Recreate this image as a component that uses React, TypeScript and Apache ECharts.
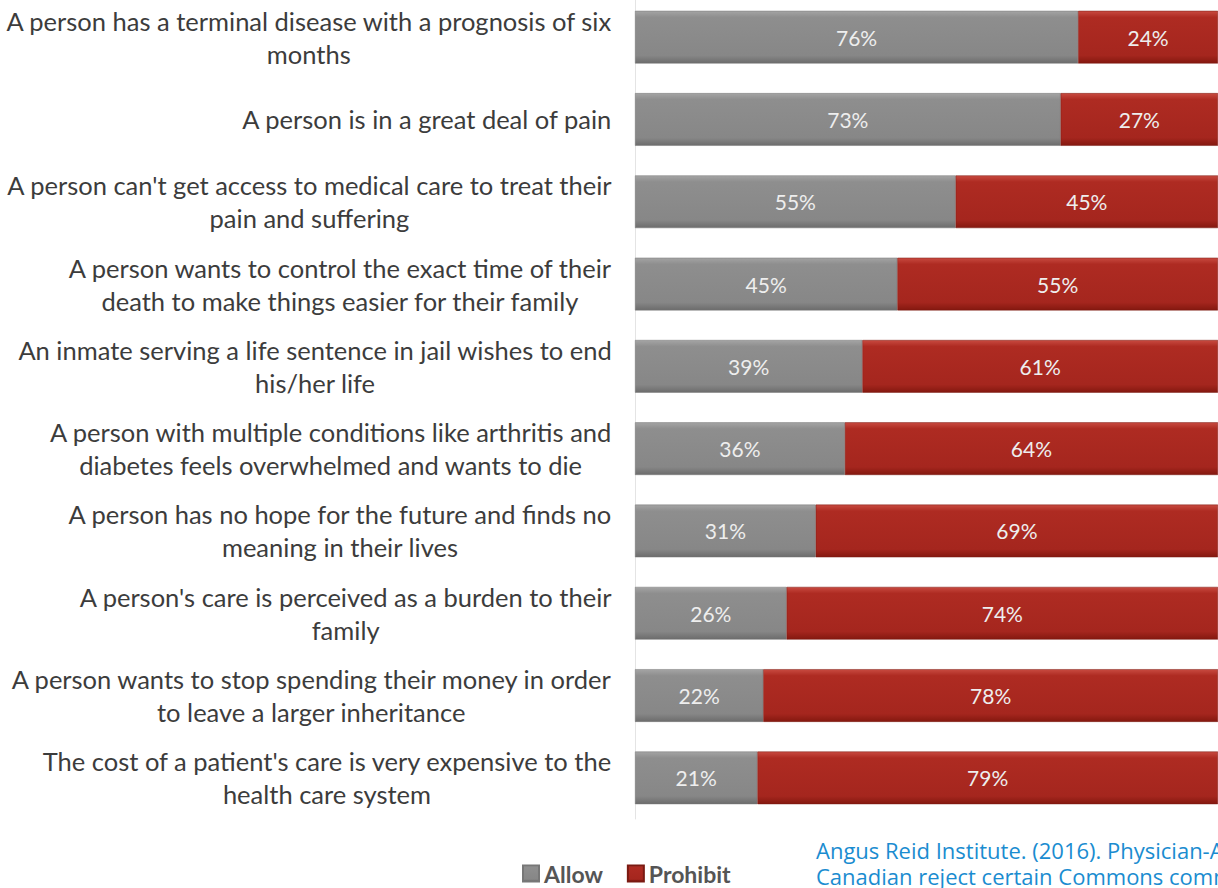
import React, { useEffect, useRef } from "react";
import * as echarts from "echarts";

const categories: string[] = [
  "A person has a terminal disease with a prognosis of six\nmonths",
  "A person is in a great deal of pain",
  "A person can't get access to medical care to treat their\npain and suffering",
  "A person wants to control the exact time of their\ndeath to make things easier for their family",
  "An inmate serving a life sentence in jail wishes to end\nhis/her life",
  "A person with multiple conditions like arthritis and\ndiabetes feels overwhelmed and wants to die",
  "A person has no hope for the future and finds no\nmeaning in their lives",
  "A person's care is perceived as a burden to their\nfamily",
  "A person wants to stop spending their money in order\nto leave a larger inheritance",
  "The cost of a patient's care is very expensive to the\nhealth care system",
];
const allowValues: number[] = [76, 73, 55, 45, 39, 36, 31, 26, 22, 21];
const prohibitValues: number[] = [24, 27, 45, 55, 61, 64, 69, 74, 78, 79];
const seriesNames: string[] = ["Allow", "Prohibit"];
const citationLines: string[] = [
  "Angus Reid Institute. (2016). Physician-A",
  "Canadian reject certain Commons comm",
];

const grayGrad = new echarts.graphic.LinearGradient(0, 0, 0, 1, [
  { offset: 0, color: "#a4a4a4" },
  { offset: 0.12, color: "#8e8e8e" },
  { offset: 0.85, color: "#878787" },
  { offset: 1, color: "#6c6c6c" },
]);
const redGrad = new echarts.graphic.LinearGradient(0, 0, 0, 1, [
  { offset: 0, color: "#c84a40" },
  { offset: 0.12, color: "#ae2b22" },
  { offset: 0.85, color: "#a5261e" },
  { offset: 1, color: "#84180f" },
]);

// the chart div starts 4px above the page top so that the first band can begin above it
const SHIFT = 4;

export default function App() {
  const ref = useRef<HTMLDivElement>(null);
  useEffect(() => {
    if (!ref.current) return;
    const chart = echarts.init(ref.current, null, { renderer: "svg" });
    const labelCfg = {
      show: true,
      position: "inside",
      formatter: (p: any) => p.value + "%",
      color: "#eeeeee",
      fontFamily: "Lato",
      fontSize: 21,
    };
    chart.setOption({
      animation: false,
      backgroundColor: "#ffffff",
      grid: { left: 635, right: 0, top: 0, bottom: 69, containLabel: false },
      xAxis: {
        type: "value",
        min: 0,
        max: 100,
        show: false,
      },
      yAxis: {
        type: "category",
        inverse: true,
        data: categories,
        axisLine: { show: true, lineStyle: { color: "#e4e4e4", width: 1 } },
        axisTick: { show: false },
        axisLabel: {
          margin: 23,
          align: "right",
          color: "#3c3c3c",
          fontFamily: "Lato",
          fontSize: 25.5,
          lineHeight: 33,
          formatter: (v: string) =>
            v
              .split("\n")
              .map((l) => "{c|" + l + "}")
              .join("\n"),
          rich: {
            c: {
              align: "center",
              color: "#3c3c3c",
              fontFamily: "Lato",
              fontSize: 25.5,
              lineHeight: 33,
            },
          },
        },
      },
      legend: {
        top: 862 + SHIFT,
        left: 522,
        padding: 0,
        itemWidth: 16,
        itemHeight: 16,
        itemGap: 24,
        icon: "rect",
        textStyle: {
          color: "#555555",
          fontFamily: "Lato",
          fontSize: 23,
          fontWeight: "bold",
          lineHeight: 23,
        },
        data: seriesNames,
      },
      series: [
        {
          name: seriesNames[0],
          type: "bar",
          stack: "total",
          barCategoryGap: "36%",
          data: allowValues,
          itemStyle: { color: grayGrad, borderColor: "#777777", borderWidth: 0.5 },
          label: labelCfg,
        },
        {
          name: seriesNames[1],
          type: "bar",
          stack: "total",
          barCategoryGap: "36%",
          data: prohibitValues,
          itemStyle: { color: redGrad, borderColor: "#7a1a12", borderWidth: 0.5 },
          label: labelCfg,
        },
      ],
      graphic: [
        {
          type: "text",
          left: 816,
          top: 839 + SHIFT,
          style: {
            text: citationLines[0],
            fill: "#1a8cd0",
            font: "22px 'Open Sans'",
            lineHeight: 22,
          },
        },
        {
          type: "text",
          left: 816,
          top: 865 + SHIFT,
          style: {
            text: citationLines[1],
            fill: "#1a8cd0",
            font: "22px 'Open Sans'",
            lineHeight: 22,
          },
        },
      ],
    });
    return () => chart.dispose();
  }, []);
  return (
    <div
      ref={ref}
      style={{ position: "fixed", left: 0, top: -SHIFT, width: 1218, height: 888 + SHIFT }}
    />
  );
}
